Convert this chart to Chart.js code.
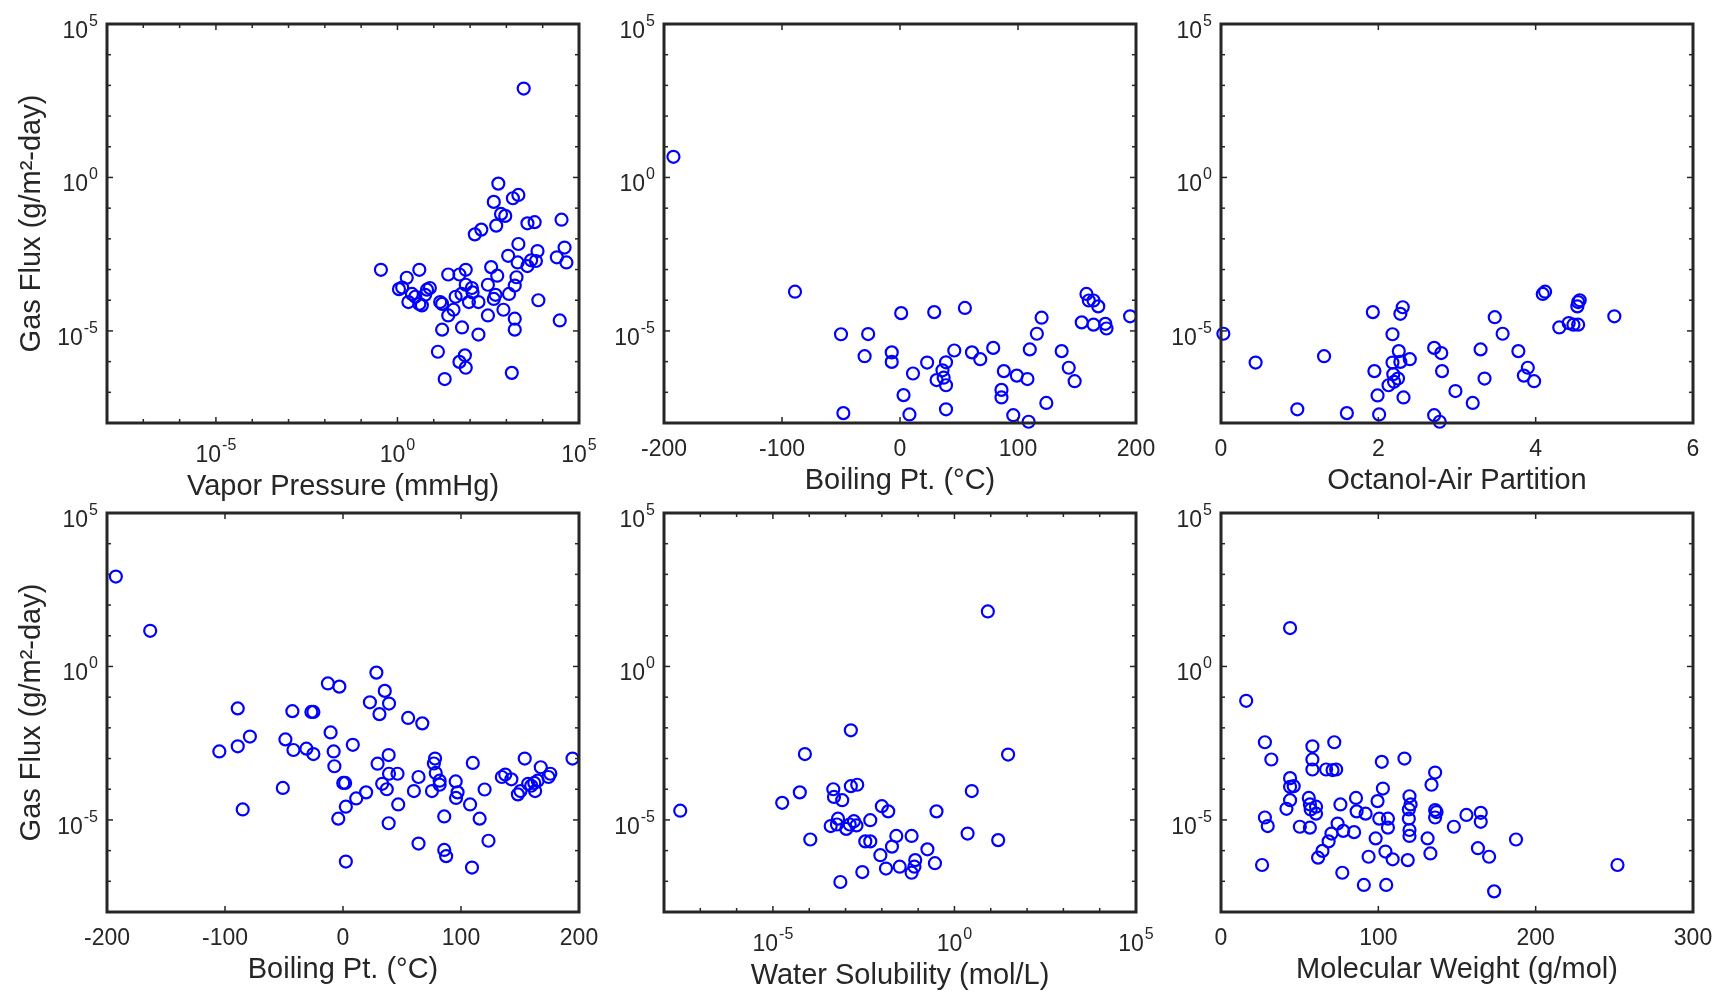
<!DOCTYPE html>
<html>
<head>
<meta charset="utf-8">
<script src="https://cdn.jsdelivr.net/npm/chart.js@4.4.0/dist/chart.umd.min.js"></script>
<style>
  html, body { margin: 0; padding: 0; background: #ffffff; }
  body { width: 1715px; height: 993px; position: relative; overflow: hidden; }
  canvas { position: absolute; }
</style>
</head>
<body>
<canvas id="p1"></canvas>
<canvas id="p2"></canvas>
<canvas id="p3"></canvas>
<canvas id="p4"></canvas>
<canvas id="p5"></canvas>
<canvas id="p6"></canvas>
<script>
// ---------------- data ----------------
const vaporPressure = [3000, 0.35, 1.8, 4.0, 1.35, 1.1, 2.5, 3.1, 2.0, 4.0,
  4.7, 6.5, 7.8, 5.8, 15, 17, 25, 25, 35, 40,
  17, 13, 20, 51, 76, 58, 60, 51, 72, 76,
  76, 93, 112, 117, 170, 170, 135, 204, 310, 380,
  310, 450, 500, 560, 525, 450, 600, 710, 930, 830,
  1180, 1120, 1410, 1700, 1700, 1700, 1900, 2040, 2140, 1510,
  2140, 3800, 6000, 3800, 4800, 6500, 7200, 7600, 24500, 33000,
  40000, 45000, 29500];
const fluxVP = [790, 9.8e-4, 5.4e-4, 9.8e-4, 2.6e-4, 2.3e-4, 1.6e-4, 1.3e-4, 8.7e-5, 7.6e-5,
  6.8e-5, 2.2e-4, 2.5e-4, 1.5e-4, 8.7e-5, 7.6e-5, 6.9e-4, 3.2e-5, 4.9e-5, 1.3e-4,
  1.1e-5, 2.1e-6, 2.7e-7, 6.9e-4, 9.8e-4, 1.6e-4, 1.3e-5, 9.8e-7, 1.6e-6, 6.3e-7,
  3.2e-4, 8.7e-5, 2.5e-4, 1.8e-4, 7.6e-6, 8.7e-5, 1.4e-2, 2.0e-2, 3.2e-4, 1.2e-3,
  3.2e-5, 1.1e-4, 1.5e-4, 6.3e-4, 2.7e-2, 1.6e-1, 6.3e-1, 6.5e-2, 5.6e-2, 4.9e-5,
  1.6e-4, 2.8e-3, 4.3e-7, 2.5e-5, 1.1e-5, 3.0e-4, 5.6e-4, 1.7e-3, 6.8e-3, 2.1e-1,
  2.7e-1, 3.2e-2, 3.5e-2, 1.3e-3, 2.0e-3, 1.9e-3, 4.0e-3, 1.0e-4, 2.5e-3, 4.2e-2,
  5.2e-3, 1.7e-3, 2.2e-5];

const boilingPtA = [-192, -89, -50, -27, -30, -7, -7, 1, -48, 3,
  8, 11, 23, 29, 31, 36, 37, 39, 39, 39,
  46, 55, 61, 68, 79, 88, 86, 86, 96, 99,
  108, 109, 110, 116, 120, 124, 137, 143, 148, 154,
  158, 160, 164, 164, 168, 174, 175, 195];
const fluxBPA = [4.7, 1.9e-4, 7.8e-6, 7.9e-6, 1.5e-6, 2.0e-6, 9.8e-7, 3.8e-5, 2.1e-8, 8.1e-8,
  1.9e-8, 4.1e-7, 9.3e-7, 4.1e-5, 2.5e-7, 5.2e-7, 3.0e-7, 9.5e-7, 1.7e-7, 2.8e-8,
  2.3e-6, 5.6e-5, 2.0e-6, 1.2e-6, 2.8e-6, 4.9e-7, 1.2e-7, 6.8e-8, 1.8e-8, 3.5e-7,
  2.7e-7, 1.1e-8, 2.5e-6, 8.1e-6, 2.7e-5, 4.5e-8, 2.2e-6, 6.3e-7, 2.3e-7, 1.9e-5,
  1.6e-4, 9.8e-5, 9.8e-5, 1.6e-5, 6.3e-5, 1.7e-5, 1.2e-5, 3.0e-5];

const octanolAir = [0.03, 0.44, 0.97, 1.31, 1.6, 1.93, 1.95, 1.99, 2.01, 2.18,
  2.18, 2.19, 2.13, 2.2, 2.25, 2.26, 2.28, 2.28, 2.31, 2.32,
  2.4, 2.71, 2.8, 2.81, 2.71, 2.78, 2.98, 3.2, 3.3, 3.35,
  3.48, 3.58, 3.78, 3.9, 3.85, 3.98, 4.09, 4.12, 4.3, 4.42,
  4.48, 4.54, 4.53, 4.54, 4.56, 5.0];
const fluxKOA = [8.1e-6, 9.3e-7, 2.8e-8, 1.5e-6, 2.1e-8, 4.1e-5, 4.9e-7, 7.9e-8, 1.9e-8, 7.8e-6,
  9.3e-7, 3.9e-7, 1.7e-7, 2.2e-7, 2.8e-7, 2.2e-6, 9.8e-7, 3.6e-5, 5.9e-5, 6.8e-8,
  1.2e-6, 2.8e-6, 1.9e-6, 4.9e-7, 1.8e-8, 1.1e-8, 1.1e-7, 4.5e-8, 2.5e-6, 2.8e-7,
  2.8e-5, 8.1e-6, 2.2e-6, 6.3e-7, 3.5e-7, 2.3e-7, 1.6e-4, 1.9e-4, 1.3e-5, 1.8e-5,
  1.6e-5, 1.6e-5, 6.3e-5, 8.7e-5, 1.0e-4, 3.0e-5];

const boilingPtB = [-192.5, -163.4, -104.8, -89.2, -89.2, -78.9, -85, -51, -48.8, -42.9,
  -42, -31, -26.8, -25.1, -25.1, -12.8, -3.1, -10.5, -7.9, -7.3,
  0.2, 1.8, 2.4, -4, 2.4, 8.3, 11.2, 19.6, 22.8, 28.3,
  30.9, 29.3, 33.2, 35.4, 39, 38.7, 37.1, 39, 46.2, 38.7,
  46.8, 55.2, 67.2, 64, 60.1, 64, 75.4, 78, 77, 78.6,
  81.9, 81.9, 85.8, 85.8, 87.4, 95.5, 97.1, 95.8, 107.7, 110,
  109.3, 115.8, 120, 123.3, 134.6, 137.5, 142.7, 148.2, 150.4, 154,
  156.9, 159.5, 162.1, 162.8, 165, 167.6, 174.1, 175.7, 194.5];
const fluxBPB = [850, 14.5, 1.7e-3, 4.3e-2, 2.5e-3, 5.2e-3, 2.2e-5, 1.1e-4, 4.2e-3, 3.5e-2,
  1.9e-3, 2.1e-3, 3.3e-2, 3.3e-2, 1.4e-3, 2.8e-1, 2.2e-1, 7.1e-3, 1.7e-3, 5.6e-4,
  1.6e-4, 1.6e-4, 2.7e-5, 1.1e-5, 4.4e-7, 2.8e-3, 5.0e-5, 7.9e-5, 6.8e-2, 6.3e-1,
  2.8e-2, 6.8e-4, 1.5e-4, 1.6e-1, 6.2e-2, 1.3e-3, 1.0e-4, 3.2e-4, 3.2e-4, 7.8e-6,
  3.2e-5, 2.1e-2, 1.4e-2, 2.5e-4, 8.7e-5, 1.7e-6, 8.7e-5, 1.0e-3, 6.9e-4, 3.4e-4,
  1.9e-4, 1.4e-4, 1.3e-5, 1.05e-6, 6.6e-7, 1.8e-4, 7.9e-5, 5.2e-5, 3.2e-5, 7.2e-4,
  2.8e-7, 1.1e-5, 9.8e-5, 2.1e-6, 2.5e-4, 3.0e-4, 2.1e-4, 6.8e-5, 8.7e-5, 1.0e-3,
  1.5e-4, 1.3e-4, 1.6e-4, 8.7e-5, 1.9e-4, 5.2e-4, 2.5e-4, 3.2e-4, 1.0e-3];

const waterSolubility = [2.8e-8, 1.8e-5, 5.5e-5, 7.6e-5, 1.07e-4, 4.6e-4, 4.8e-4, 8.1e-4, 3.9e-4, 6.2e-4,
  5.8e-4, 1.05e-3, 1.3e-3, 1.7e-3, 2.0e-3, 1.4e-3, 1.4e-3, 2.1e-3, 7.2e-4, 2.9e-3,
  3.5e-3, 4.8e-3, 4.8e-3, 1.0e-2, 1.5e-2, 9.1e-3, 1.3e-2, 1.9e-2, 2.5e-2, 3.1e-2,
  6.6e-2, 6.6e-2, 8.3e-2, 7.9e-2, 0.18, 0.29, 0.32, 2.3, 3.0, 8.3,
  16, 30];
const fluxWS = [2.0e-5, 3.6e-5, 7.9e-5, 1.4e-3, 2.3e-6, 1.0e-4, 5.6e-5, 4.4e-5, 6.3e-6, 1.1e-5,
  7.1e-6, 5.1e-6, 7.1e-6, 9.1e-6, 6.6e-6, 8.3e-3, 1.26e-4, 1.4e-4, 9.5e-8, 2.0e-7,
  2.0e-6, 2.0e-6, 9.8e-6, 2.8e-5, 1.9e-5, 7.1e-7, 2.6e-7, 1.35e-6, 3.0e-6, 3.0e-7,
  3.0e-6, 1.9e-7, 4.9e-7, 3.0e-7, 1.1e-6, 3.9e-7, 1.9e-5, 3.6e-6, 8.7e-5, 62,
  2.2e-6, 1.35e-3];

const molecularWeight = [16, 43.9, 27.9, 32, 27.9, 29.7, 26.1, 43.9, 43.9, 46.2,
  43.9, 41.6, 50.1, 55.8, 56.5, 57, 56.5, 58.1, 58.1, 58.1,
  60.4, 60.4, 61.7, 64.5, 66.8, 68.4, 70.2, 70.9, 73.2, 72,
  74.1, 75.9, 77.7, 77.1, 84.6, 85.8, 86.2, 91.9, 90.8, 93.8,
  98.3, 99.5, 100.6, 102.2, 102.9, 104.5, 105, 106.1, 106.1, 109.1,
  116.6, 118.7, 119.8, 120.5, 119.4, 119.4, 119.8, 119.8, 131.3, 133.1,
  133.8, 136.1, 136.1, 137, 136.1, 148, 156, 163.3, 165.1, 165.1,
  170.4, 173.6, 187.5, 252];
const fluxMW = [7.6e-2, 17.8, 3.4e-3, 9.3e-4, 1.2e-5, 6.3e-6, 3.4e-7, 2.3e-4, 1.2e-4, 1.26e-4,
  4.4e-5, 2.3e-5, 6.0e-6, 5.2e-5, 3.2e-5, 2.2e-5, 5.6e-6, 2.5e-3, 9.3e-4, 4.4e-4,
  2.7e-5, 1.6e-5, 5.9e-7, 9.8e-7, 4.4e-4, 2.0e-6, 3.6e-6, 4.2e-4, 4.4e-4, 3.4e-3,
  7.6e-6, 3.2e-5, 4.4e-6, 1.9e-7, 4.0e-6, 5.2e-5, 1.9e-5, 1.6e-5, 7.6e-8, 6.3e-7,
  2.5e-6, 4.1e-5, 1.1e-5, 7.8e-4, 1.05e-4, 9.3e-7, 7.6e-8, 1.1e-5, 5.6e-6, 5.2e-7,
  1.0e-3, 4.9e-7, 5.9e-5, 3.2e-5, 2.2e-5, 1.1e-5, 4.7e-6, 3.0e-6, 2.5e-6, 8.1e-7,
  1.4e-4, 3.5e-4, 2.1e-5, 1.8e-5, 1.2e-5, 6.0e-6, 1.45e-5, 1.2e-6, 1.7e-5, 8.7e-6,
  6.3e-7, 4.7e-8, 2.3e-6, 3.4e-7];

// tick values / labels
const logDecades = [1e-8, 1e-7, 1e-6, 1e-5, 1e-4, 1e-3, 1e-2, 1e-1, 1e0, 1e1, 1e2, 1e3, 1e4, 1e5];
const logLabelExponents = [-5, 0, 5];
const boilingTicks = [-200, -100, 0, 100, 200];
const octanolTicks = [0, 2, 4, 6];
const weightTicks = [0, 100, 200, 300];

const xTitles = ['Vapor Pressure (mmHg)', 'Boiling Pt. (\u00B0C)', 'Octanol-Air Partition',
                 'Boiling Pt. (\u00B0C)', 'Water Solubility (mol/L)', 'Molecular Weight (g/mol)'];
const yTitle = 'Gas Flux (g/m\u00B2-day)';

// ---------------- styling / layout ----------------
const FONT = '"Liberation Sans", Arial, Helvetica, sans-serif';
const INK = '#262626';
const BLUE = '#0000ff';
const TICK_FS = 23, SUP_FS = 16, TITLE_FS = 29;
const PAD_L = 107, PAD_T = 24, PAD_R = 40, X_H = 81;
const AREA_W = 472, AREA_H = 399;

function drawPow(ctx, e, x, baseY, supY, align) {
  const es = String(e);
  ctx.font = TICK_FS + 'px ' + FONT;
  const w1 = ctx.measureText('10').width;
  ctx.font = SUP_FS + 'px ' + FONT;
  const w2 = ctx.measureText(es).width;
  const gap = 1;
  const tot = w1 + gap + w2;
  const x0 = align === 'right' ? x - tot : x - tot / 2;
  ctx.textAlign = 'left';
  ctx.textBaseline = 'alphabetic';
  ctx.font = TICK_FS + 'px ' + FONT;
  ctx.fillText('10', x0, baseY);
  ctx.font = SUP_FS + 'px ' + FONT;
  ctx.fillText(es, x0 + w1 + gap, supY);
}

const matlabAxes = {
  id: 'matlabAxes',
  afterDraw(chart) {
    const ctx = chart.ctx;
    const a = chart.chartArea;
    const xs = chart.scales.x, ys = chart.scales.y;
    const xLog = xs.type === 'logarithmic';
    ctx.save();
    ctx.strokeStyle = INK;
    ctx.fillStyle = INK;
    ctx.lineWidth = 1.5;
    const seg = (x1, y1, x2, y2) => { ctx.beginPath(); ctx.moveTo(x1, y1); ctx.lineTo(x2, y2); ctx.stroke(); };
    xs.ticks.forEach(t => {
      const px = xs.getPixelForValue(t.value);
      if (px <= a.left + 1 || px >= a.right - 1) return;
      const major = !xLog || logLabelExponents.includes(Math.round(Math.log10(t.value)));
      const L = major ? 6 : 4;
      seg(px, a.bottom, px, a.bottom - L);
      seg(px, a.top, px, a.top + L);
    });
    ys.ticks.forEach(t => {
      const py = ys.getPixelForValue(t.value);
      if (py <= a.top + 1 || py >= a.bottom - 1) return;
      const major = logLabelExponents.includes(Math.round(Math.log10(t.value)));
      const L = major ? 6 : 4;
      seg(a.left, py, a.left + L, py);
      seg(a.right, py, a.right - L, py);
    });
    ctx.lineWidth = 3;
    ctx.strokeRect(a.left, a.top, a.right - a.left, a.bottom - a.top);
    ys.ticks.forEach(t => {
      const e = Math.round(Math.log10(t.value));
      if (!logLabelExponents.includes(e)) return;
      const py = ys.getPixelForValue(t.value);
      drawPow(ctx, e, a.left - 9, py + 14, py + 2, 'right');
    });
    xs.ticks.forEach(t => {
      const px = xs.getPixelForValue(t.value);
      if (xLog) {
        const e = Math.round(Math.log10(t.value));
        if (!logLabelExponents.includes(e)) return;
        drawPow(ctx, e, px, a.bottom + 38.5, a.bottom + 27, 'center');
      } else {
        ctx.font = TICK_FS + 'px ' + FONT;
        ctx.textAlign = 'center';
        ctx.textBaseline = 'alphabetic';
        ctx.fillText(String(t.value), px, a.bottom + 32.5);
      }
    });
    ctx.restore();
  }
};

const panels = [
  { id: 'p1', areaLeft: 107, areaTop: 24, xv: vaporPressure, yv: fluxVP, xLog: true, xMin: 1e-8, xMax: 1e5, ticks: logDecades, title: xTitles[0], showY: true },
  { id: 'p2', areaLeft: 664, areaTop: 24, xv: boilingPtA, yv: fluxBPA, xLog: false, xMin: -200, xMax: 200, ticks: boilingTicks, title: xTitles[1], showY: false },
  { id: 'p3', areaLeft: 1221, areaTop: 24, xv: octanolAir, yv: fluxKOA, xLog: false, xMin: 0, xMax: 6, ticks: octanolTicks, title: xTitles[2], showY: false },
  { id: 'p4', areaLeft: 107, areaTop: 513, xv: boilingPtB, yv: fluxBPB, xLog: false, xMin: -200, xMax: 200, ticks: boilingTicks, title: xTitles[3], showY: true },
  { id: 'p5', areaLeft: 664, areaTop: 513, xv: waterSolubility, yv: fluxWS, xLog: true, xMin: 1e-8, xMax: 1e5, ticks: logDecades, title: xTitles[4], showY: false },
  { id: 'p6', areaLeft: 1221, areaTop: 513, xv: molecularWeight, yv: fluxMW, xLog: false, xMin: 0, xMax: 300, ticks: weightTicks, title: xTitles[5], showY: false }
];

panels.forEach(p => {
  const cv = document.getElementById(p.id);
  const W = PAD_L + AREA_W + PAD_R, H = PAD_T + AREA_H + X_H;
  cv.width = W; cv.height = H;
  cv.style.width = W + 'px'; cv.style.height = H + 'px';
  cv.style.left = (p.areaLeft - PAD_L) + 'px';
  cv.style.top = (p.areaTop - PAD_T) + 'px';

  new Chart(cv, {
    type: 'scatter',
    data: {
      datasets: [{
        data: p.xv.map((v, i) => ({ x: v, y: p.yv[i] })),
        showLine: false,
        pointStyle: 'circle',
        pointRadius: 6,
        pointHoverRadius: 6,
        pointBorderWidth: 2.2,
        pointBorderColor: BLUE,
        pointBackgroundColor: 'rgba(0,0,0,0)',
        clip: false
      }]
    },
    options: {
      responsive: false,
      animation: false,
      devicePixelRatio: 1,
      events: [],
      layout: { padding: { left: 0, top: PAD_T, right: PAD_R, bottom: 0 } },
      plugins: { legend: { display: false }, tooltip: { enabled: false } },
      scales: {
        x: {
          type: p.xLog ? 'logarithmic' : 'linear',
          position: 'bottom',
          min: p.xMin, max: p.xMax,
          grid: { display: false },
          border: { display: false },
          ticks: { display: false },
          title: {
            display: true, text: p.title, color: INK,
            font: { family: FONT, size: TITLE_FS, weight: 'normal' },
            padding: { top: 0, bottom: p.xLog ? 0.1 : 5.6 }
          },
          afterBuildTicks: s => { s.ticks = p.ticks.map(v => ({ value: v })); },
          afterFit: s => { s.height = X_H; }
        },
        y: {
          type: 'logarithmic',
          position: 'left',
          min: 1e-8, max: 1e5,
          grid: { display: false },
          border: { display: false },
          ticks: { display: false },
          title: {
            display: p.showY, text: yTitle, color: INK,
            font: { family: FONT, size: TITLE_FS, weight: 'normal' },
            padding: { top: 14.3, bottom: 0 }
          },
          afterBuildTicks: s => { s.ticks = logDecades.map(v => ({ value: v })); },
          afterFit: s => { s.width = PAD_L; }
        }
      }
    },
    plugins: [matlabAxes]
  });
});
</script>
</body>
</html>
